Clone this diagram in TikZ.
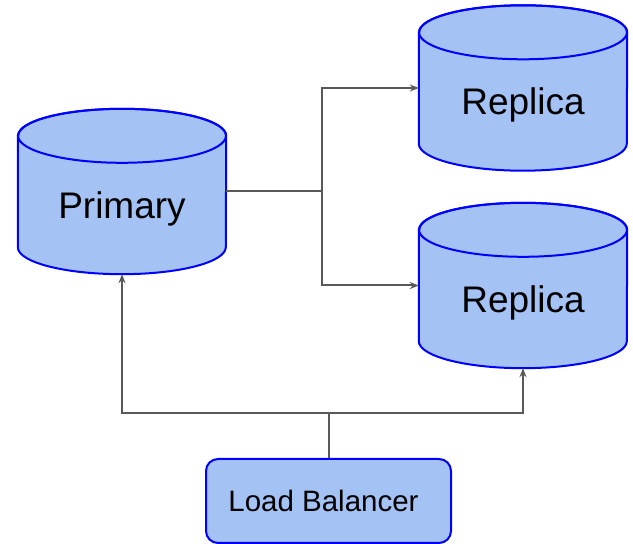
\documentclass[tikz,border=0pt]{standalone}
\usepackage{fontspec}
\setmainfont{Liberation Sans}
\usetikzlibrary{arrows.meta,backgrounds,calc}

\definecolor{dbfill}{HTML}{A4C2F4}
\definecolor{dbedge}{HTML}{0000FF}
\definecolor{wire}{HTML}{595959}

% cylinder outline behind a named (invisible) node
\newcommand\drawdb[1]{%
  \begin{pgfonlayer}{background}
    \path[dbbody] ([yshift=-27pt]#1.north west) -- ([yshift=27pt]#1.south west)
      arc[start angle=180,end angle=360,x radius=104pt,y radius=27pt]
      -- ([yshift=-27pt]#1.north east)
      arc[start angle=0,end angle=180,x radius=104pt,y radius=27pt] -- cycle;
    \draw[dbrim] ([yshift=-27pt]#1.north) ellipse[x radius=104pt,y radius=27pt];
  \end{pgfonlayer}}

\begin{document}
\begin{tikzpicture}[x=1pt,y=1pt,
  db/.style={inner sep=0pt,minimum width=208pt,minimum height=165pt},
  dbtext/.style={inner sep=0pt,font=\fontsize{37}{41}\selectfont},
  dbbody/.style={fill=dbfill,draw=dbedge,line width=2pt},
  dbrim/.style={draw=dbedge,line width=2pt},
  lbbox/.style={fill=dbfill,draw=dbedge,line width=2pt,rounded corners=12pt,
    minimum width=245pt,minimum height=84pt,inner sep=0pt,
    font=\fontsize{29.5}{33}\selectfont},
  link/.style={draw=wire,line width=2pt},
  arrow/.style={link,-{Stealth[length=9pt,width=7pt,inset=3pt]}}]
  \useasboundingbox (0,0) rectangle (633,544);

  \node[db] (P)  at (122,352.5) {};
  \node[db] (R1) at (523,456)   {};
  \node[db] (R2) at (523,258.5) {};
  \drawdb{P}\drawdb{R1}\drawdb{R2}

  \node[dbtext] (tP)  at ([yshift=-17pt]P.center)  {Primary};
  \node[dbtext] (tR1) at ([yshift=-17pt]R1.center) {Replica};
  \node[dbtext] (tR2) at ([yshift=-17pt]R2.center) {Replica};

  \node[lbbox] (LB) at (328.5,43) {Load Balancer\kern10pt};

  % replication from the primary
  \coordinate (j) at ([xshift=96pt]P.east);
  \draw[link] (P.east) -- (j);
  \draw[arrow] (j) |- (R1.west);
  \draw[arrow] (j) |- (R2.west);

  % traffic from the load balancer
  \coordinate (k) at ($(LB.north)+(0,45)$);
  \draw[link] (LB.north) -- (k);
  \draw[arrow] (k) -| (P.south);
  \draw[arrow] (k) -| (R2.south);
\end{tikzpicture}
\end{document}
